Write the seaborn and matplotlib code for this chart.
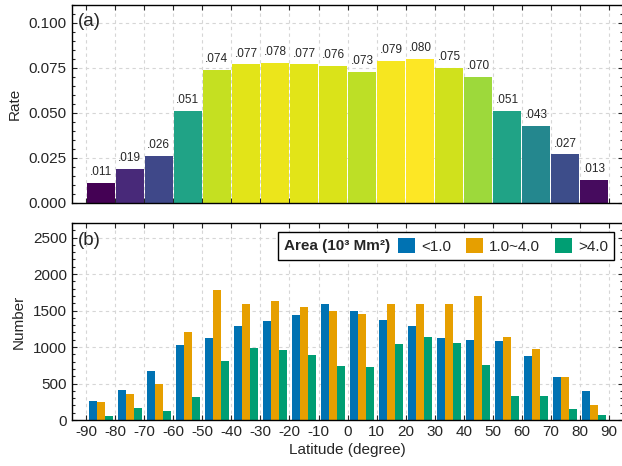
import numpy as np
import pandas as pd
import matplotlib
matplotlib.use("Agg")
import matplotlib.pyplot as plt
import seaborn as sns
from matplotlib.ticker import AutoMinorLocator, MultipleLocator
from matplotlib.patches import Patch
from matplotlib.offsetbox import HPacker

# Latitude bands (centre of each 10 degree band)
lat_centers = [-85, -75, -65, -55, -45, -35, -25, -15, -5, 5, 15, 25, 35, 45, 55, 65, 75, 85]

# (a) rate per band
rate = [0.011, 0.019, 0.026, 0.051, 0.074, 0.077, 0.078, 0.077, 0.076,
        0.073, 0.079, 0.080, 0.075, 0.070, 0.051, 0.043, 0.027, 0.013]

# (b) number per band, by area class
n_small = [260, 411, 671, 1027, 1123, 1288, 1356, 1438, 1589,
           1493, 1370, 1288, 1123, 1096, 1082, 877, 589, 397]
n_mid = [247, 360, 497, 1205, 1781, 1589, 1630, 1548, 1498,
         1452, 1589, 1589, 1589, 1699, 1137, 973, 589, 205]
n_large = [55, 164, 123, 315, 808, 986, 959, 890, 740,
           726, 1041, 1137, 1055, 753, 329, 329, 151, 68]

area_labels = ["<1.0", "1.0~4.0", ">4.0"]
area_colors = ["#0072B2", "#E69F00", "#009E73"]
xtick_vals = list(range(-90, 91, 10))

sns.set_style("ticks")
plt.rcParams["font.family"] = ["Liberation Sans", "DejaVu Sans"]
plt.rcParams["axes.unicode_minus"] = False

fig = plt.figure(figsize=(6.22, 4.66), dpi=100)
ax1 = fig.add_axes([0.1153, 0.5644, 0.887, 0.4249])
ax2 = fig.add_axes([0.1153, 0.0987, 0.887, 0.4228])

# ---- (a) rate
sns.barplot(x=lat_centers, y=rate, native_scale=True, width=0.97,
            saturation=1, linewidth=0, errorbar=None, ax=ax1)
cmap = plt.get_cmap("viridis")
norm = plt.Normalize(min(rate), max(rate))
for patch, v in zip(ax1.patches, rate):
    patch.set_facecolor(cmap(norm(v)))
ax1.bar_label(ax1.containers[0], labels=[f".{round(v * 1000):03d}" for v in rate],
              padding=3.5, fontsize=8.5)
ax1.set_ylim(0, 0.110)
ax1.yaxis.set_major_locator(MultipleLocator(0.025))
ax1.yaxis.set_major_formatter(matplotlib.ticker.FormatStrFormatter("%.3f"))
ax1.set_ylabel("Rate", fontsize=11, labelpad=5)
ax1.text(0.012, 0.962, "(a)", transform=ax1.transAxes, ha="left", va="top", fontsize=13.5)

# ---- (b) number
df = pd.DataFrame({
    "lat": lat_centers * 3,
    "count": n_small + n_mid + n_large,
    "area": np.repeat(area_labels, len(lat_centers)),
})
sns.barplot(data=df, x="lat", y="count", hue="area", hue_order=area_labels,
            palette=dict(zip(area_labels, area_colors)), native_scale=True,
            width=0.83, saturation=1, linewidth=0, errorbar=None,
            legend=False, ax=ax2)
ax2.set_ylim(0, 2700)
ax2.yaxis.set_major_locator(MultipleLocator(500))
ax2.set_ylabel("Number", fontsize=11, labelpad=5)
ax2.set_xlabel("Latitude (degree)", fontsize=11, labelpad=3)
ax2.text(0.012, 0.955, "(b)", transform=ax2.transAxes, ha="left", va="top", fontsize=13.5)

handles = [Patch(facecolor=c, edgecolor="none") for c in area_colors]
leg = ax2.legend(handles, area_labels, title="Area (10³ Mm²)", ncol=3,
                 loc="upper right", frameon=True, fancybox=False, framealpha=1,
                 edgecolor="black", fontsize=11,
                 title_fontproperties={"weight": "bold", "size": 11},
                 handlelength=1.1, handleheight=1.1, handletextpad=0.4,
                 columnspacing=1.0, borderpad=0.4, borderaxespad=0.6)
leg.get_frame().set_linewidth(1.0)
# title on the same row as the entries
box = leg._legend_box
row = HPacker(pad=box.pad, sep=5.5, align="center", children=box.get_children())
row.set_figure(fig)
row.axes = ax2
row.set_offset(leg._findoffset)
leg._legend_box = row

# ---- common axis styling
for ax in (ax1, ax2):
    ax.set_xlim(-95, 95)
    ax.set_xticks(xtick_vals)
    ax.yaxis.set_minor_locator(AutoMinorLocator(5))
    ax.grid(True, which="major", linestyle=(0, (3, 3)), color="#d6d6d6", linewidth=0.8)
    ax.set_axisbelow(True)
    ax.tick_params(which="both", direction="in", top=True, right=True,
                   width=0.8, labelsize=11, pad=3.5)
    ax.tick_params(which="major", length=3.5)
    ax.tick_params(which="minor", length=2)
    for s in ax.spines.values():
        s.set_visible(True)
        s.set_linewidth(1.0)
        s.set_color("black")

ax1.set_xlabel("")
ax1.tick_params(axis="x", labelbottom=False)
ax2.set_xticklabels([str(v) for v in xtick_vals])

fig.savefig("out.png", dpi=100)
